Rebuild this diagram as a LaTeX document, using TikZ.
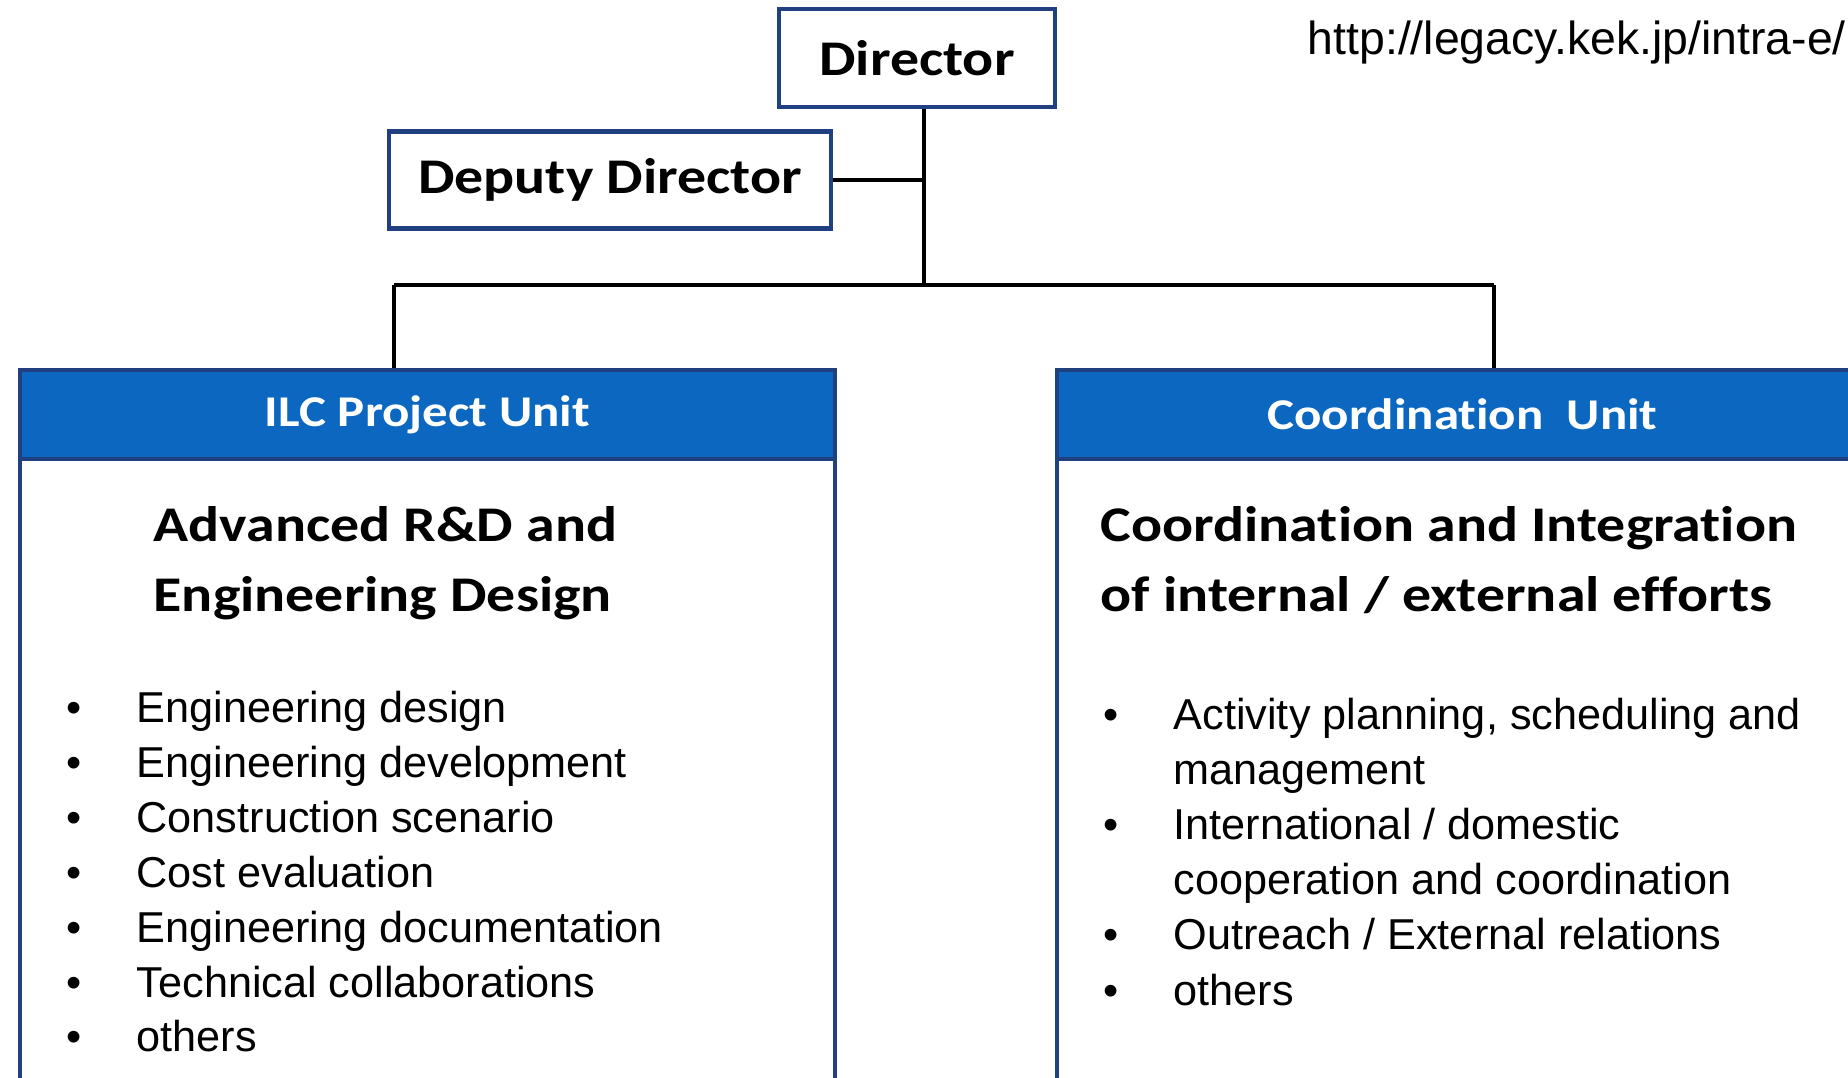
\documentclass[tikz,border=0pt]{standalone}
\usepackage{fontspec}
\usepackage{xcolor}
\usepackage{tikz}
\usetikzlibrary{positioning}
\newfontfamily\boxfont[FakeStretch=1.16,Ligatures=CommonOff]{Carlito}
\newfontfamily\listfont{Liberation Sans}
\definecolor{kekblue}{RGB}{11,103,191}
\definecolor{keknavy}{RGB}{33,64,128}
\tikzstyle{postbox} = [rectangle, draw=keknavy, line width=1.2pt, fill=white, text centered, font=\boxfont\bfseries\fontsize{14.2}{17}\selectfont]
\tikzstyle{unitbox} = [rectangle, draw=keknavy, line width=1.1pt, anchor=north west]
\tikzstyle{unithead} = [rectangle, fill=kekblue, draw=keknavy, line width=1.1pt, text=white, anchor=north, minimum height=0.89cm, font=\boxfont\bfseries\fontsize{12.5}{15}\selectfont]
\tikzstyle{headline} = [anchor=base west, inner sep=0pt, font=\boxfont\bfseries\fontsize{14.2}{20}\selectfont]
\tikzstyle{listline} = [anchor=base west, inner sep=0pt, font=\listfont\fontsize{12.3}{15.6}\selectfont]
\tikzstyle{link} = [line width=1.1pt, black]

\begin{document}
\begin{tikzpicture}
   \useasboundingbox (0,0) rectangle (18.48,-10.78);
   \fill[white] (0,0) rectangle (18.48,-10.78);
   % posts
   \node (director) [postbox, minimum width=2.76cm, minimum height=0.98cm] at (9.17,-0.58) {Director};
   \node (deputy) [postbox, minimum width=4.42cm, minimum height=0.97cm] at (6.10,-1.80) {Deputy Director};
   \node (url) [anchor=base west, inner sep=0pt, font=\listfont\fontsize{13.2}{16}\selectfont] at (13.07,-0.55) {http://legacy.kek.jp/intra-e/};
   % units
   \node (ilc) [unitbox, minimum width=8.15cm, minimum height=7.17cm] at (0.18,-3.68) {};
   \node (ilchead) [unithead, minimum width=8.15cm] at (ilc.north) {ILC Project Unit};
   \node (coord) [unitbox, minimum width=8.11cm, minimum height=7.17cm] at (10.55,-3.68) {};
   \node (coordhead) [unithead, minimum width=8.11cm] at (coord.north) {Coordination\ \ Unit};
   % tree
   \coordinate (junction) at (9.24,-2.85);
   \coordinate (ldrop) at (3.94,-2.85);
   \coordinate (rdrop) at (14.94,-2.85);
   \draw [link] (director.south -| junction) -- (junction);
   \draw [link] (deputy.east) -- (deputy.east -| junction);
   \draw [link] (ldrop) -- (rdrop);
   \draw [link] (ldrop) -- (ldrop |- ilchead.north);
   \draw [link] (rdrop) -- (rdrop |- coordhead.north);
   % left unit text
   \node (ilctitle1) [headline] at (1.53,-5.42) {Advanced R\&D and};
   \node (ilctitle2) [headline] at (1.53,-6.12) {Engineering Design};
   \foreach \t [count=\i] in {Engineering design, Engineering development, Construction scenario, Cost evaluation, Engineering documentation, Technical collaborations, others}
      \node (ilcitem\i) [listline] at (0.66,{-7.23-(\i-1)*0.548}) {\makebox[0.70cm][l]{\textbullet}\t};
   % right unit text
   \node (coordtitle1) [headline] at (11.00,-5.42) {Coordination and Integration};
   \node (coordtitle2) [headline] at (11.00,-6.12) {of internal / external efforts};
   \foreach \b/\t [count=\i] in {1/{Activity planning, scheduling and}, 0/management, 1/{International / domestic}, 0/{cooperation and coordination}, 1/{Outreach / External relations}, 1/others}
      \node (coorditem\i) [listline] at (11.03,{-7.30-(\i-1)*0.55}) {\makebox[0.70cm][l]{\ifnum\b=1 \textbullet\fi}\t};
\end{tikzpicture}
\end{document}
